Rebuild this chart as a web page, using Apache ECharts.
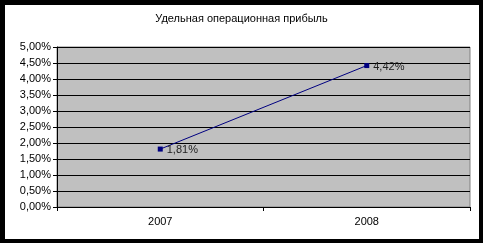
<!DOCTYPE html>
<html><head><meta charset="utf-8">
<script src="https://cdn.jsdelivr.net/npm/echarts@6/dist/echarts.min.js"></script>
<style>html,body{margin:0;padding:0;background:#000;}#c{width:483px;height:243px;}</style>
</head><body><div id="c"></div>
<script>
const title = 'Удельная операционная прибыль';
const categories = ['2007', '2008'];
const values = [1.81, 4.42];
const yMin = 0, yMax = 5, yStep = 0.5;
const fmt = v => v.toFixed(2).replace('.', ',') + '%';

const chart = echarts.init(document.getElementById('c'));
chart.setOption({
  animation: false,
  backgroundColor: '#000',
  graphic: [{ type: 'rect', z: -10, shape: { x: 5, y: 5, width: 474, height: 234 }, style: { fill: '#fff' } }],
  title: { text: title, left: 'center', top: 8, textStyle: { fontFamily: 'Liberation Sans', fontSize: 11, fontWeight: 'normal', color: '#000' } },
  grid: { left: 57, right: 13, top: 47, bottom: 36, show: true, backgroundColor: '#c0c0c0', borderColor: '#808080', borderWidth: 1 },
  xAxis: {
    type: 'category', data: categories, boundaryGap: true,
    axisLine: { lineStyle: { color: '#000', width: 1 } },
    axisTick: { show: true, length: 4, lineStyle: { color: '#000' } },
    axisLabel: { fontFamily: 'Liberation Sans', fontSize: 11, color: '#000', margin: 9 }
  },
  yAxis: {
    type: 'value', min: yMin, max: yMax, interval: yStep,
    axisLine: { show: true, lineStyle: { color: '#000', width: 1 } },
    axisTick: { show: true, length: 4, lineStyle: { color: '#000' } },
    splitLine: { lineStyle: { color: '#000', width: 1 } },
    axisLabel: { fontFamily: 'Liberation Sans', fontSize: 11, color: '#000', margin: 6, formatter: v => fmt(v) }
  },
  series: [{
    type: 'line', data: values,
    lineStyle: { color: '#000080', width: 1 },
    itemStyle: { color: '#000080' },
    symbol: 'rect', symbolSize: 5, showAllSymbol: true,
    label: { show: true, position: 'right', distance: 4, offset: [0, 1], fontFamily: 'Liberation Sans', fontSize: 11, color: '#222', formatter: p => fmt(p.value) }
  }]
});
</script></body></html>
